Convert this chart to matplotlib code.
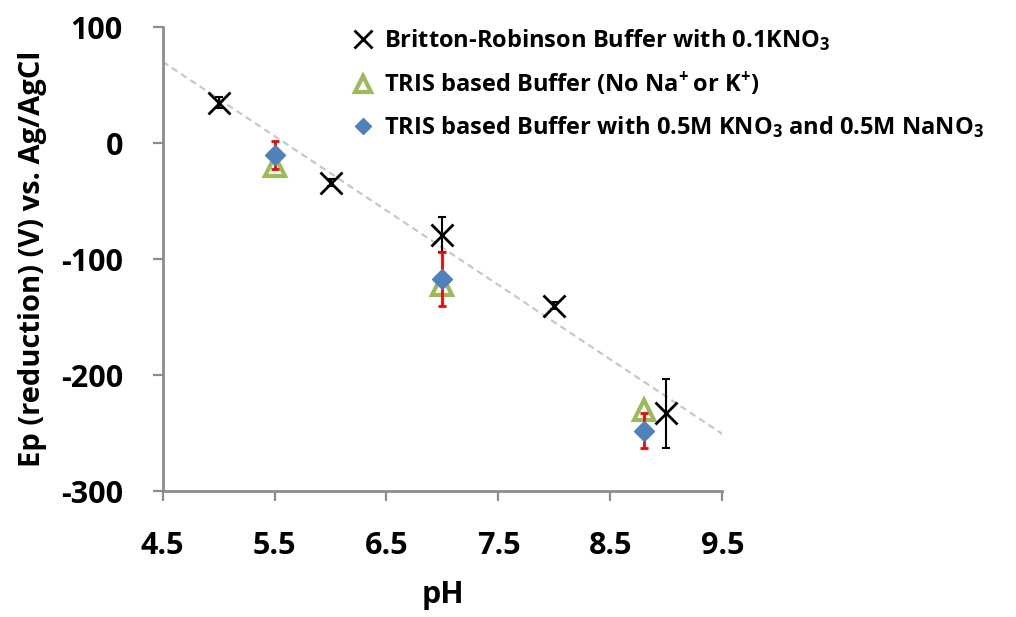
import numpy as np
import matplotlib
matplotlib.use("Agg")
import matplotlib.pyplot as plt

plt.rcParams['font.family'] = ['Open Sans', 'DejaVu Sans']
plt.rcParams['font.weight'] = 'bold'
plt.rcParams['axes.unicode_minus'] = False
plt.rcParams['mathtext.fontset'] = 'custom'
plt.rcParams['mathtext.bf'] = 'Open Sans:bold'
plt.rcParams['mathtext.rm'] = 'Open Sans:bold'
plt.rcParams['mathtext.default'] = 'bf'

# Britton-Robinson buffer
br_ph = [5.0, 6.0, 7.0, 8.0, 9.0]
br_ep = [35, -34, -79, -140, -233]
br_err = [5, 3, 15, 3, 30]

# TRIS, no Na+/K+
tris_ph = [5.5, 7.0, 8.8]
tris_ep = [-20, -122, -230]

# TRIS with KNO3 + NaNO3
tris2_ph = [5.5, 7.0, 8.8]
tris2_ep = [-10, -117, -248]
tris2_err = [12, 23, 15]

labels = ['Britton-Robinson Buffer with 0.1KNO$_3$',
          r'TRIS based Buffer (No Na$^{+}\,$or K$^{+}$)',
          'TRIS based Buffer with 0.5M KNO$_3$ and 0.5M NaNO$_3$']

fig = plt.figure(figsize=(10.16, 6.17), dpi=100)
ax = fig.add_axes([0.160, 0.204, 0.551, 0.752])

# linear trend of the BR series
k, b = np.polyfit(br_ph, br_ep, 1)
xt = np.array([4.5, 9.5])
ax.plot(xt, k * xt + b, color='#c8c8c8', lw=1.6, ls=(0, (3, 2)), zorder=1)

ax.errorbar(br_ph, br_ep, yerr=br_err, fmt='none', ecolor='black', elinewidth=1.5,
            capsize=3, capthick=1.5, zorder=2)
h1, = ax.plot(br_ph, br_ep, ls='none', marker='x', ms=16, mew=2, color='black', zorder=5)
h2, = ax.plot(tris_ph, tris_ep, ls='none', marker='^', ms=15, mew=3, mfc='white',
              mec='#9BBB59', zorder=3)
ax.errorbar(tris2_ph, tris2_ep, yerr=tris2_err, fmt='none', ecolor='red', elinewidth=2,
            capsize=3, capthick=2, zorder=4)
h3, = ax.plot(tris2_ph, tris2_ep, ls='none', marker='D', ms=10, color='#4F81BD', zorder=4)

ax.set_xlim(4.5, 9.5)
ax.set_ylim(-300, 100)
ax.set_xticks(np.arange(4.5, 9.6, 1.0))
ax.set_xticklabels(['4.5', '5.5', '6.5', '7.5', '8.5', '9.5'])
ax.set_yticks([-300, -200, -100, 0, 100])
ax.tick_params(labelsize=22, width=1.6, length=7.5, color='#8c8c8c', direction='out')
ax.tick_params(axis='y', pad=21)
ax.tick_params(axis='x', pad=21)
for s in ['top', 'right']:
    ax.spines[s].set_visible(False)
for s in ['left', 'bottom']:
    ax.spines[s].set_color('#8c8c8c')
    ax.spines[s].set_linewidth(2)
for t in ax.get_xticklabels() + ax.get_yticklabels():
    t.set_fontweight('bold')

ax.set_xlabel('pH', fontsize=22, fontweight='bold', labelpad=14)
ax.set_ylabel('Ep (reduction) (V) vs. Ag/AgCl', fontsize=21, fontweight='bold', labelpad=10)

leg = fig.legend([h1, h2, h3], labels, loc='upper left', bbox_to_anchor=(0.322, 0.99),
                 frameon=False, fontsize=17, handletextpad=0.3, labelspacing=0.7,
                 markerscale=0.8, handlelength=1.2)
for t in leg.get_texts():
    t.set_fontweight('bold')

fig.savefig('out.png', dpi=100)
